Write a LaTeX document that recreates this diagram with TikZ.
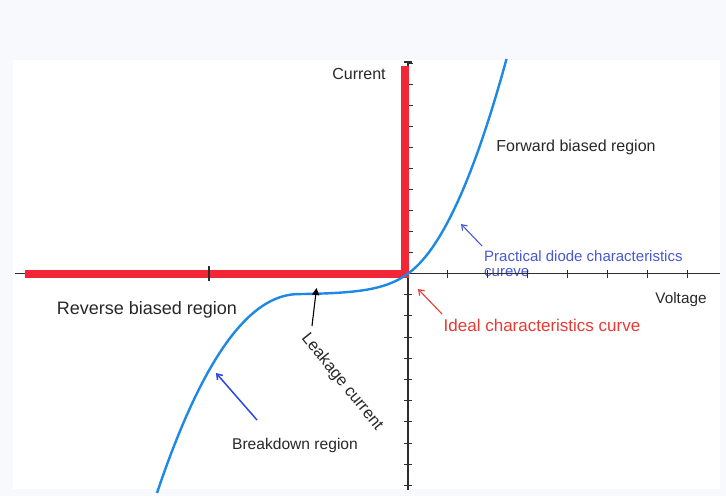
\documentclass[tikz,border=0pt]{standalone}
\usepackage{fontspec}
\setmainfont{Liberation Sans}
\usetikzlibrary{arrows.meta}
\definecolor{bgc}{RGB}{247,249,253}
\definecolor{axisc}{RGB}{45,45,45}
\definecolor{idealred}{RGB}{242,38,55}
\definecolor{curveblue}{RGB}{30,136,229}
\definecolor{labelblue}{RGB}{72,88,212}
\definecolor{labelred}{RGB}{232,58,52}
\definecolor{arrowblue}{RGB}{45,70,232}
\definecolor{txt}{RGB}{40,40,40}
\tikzset{
  lbl/.style={inner sep=0pt, text=txt, font=\fontsize{16}{18}\selectfont},
  axisline/.style={draw=axisc, line width=1.3pt},
  tickmark/.style={draw=axisc, line width=1.1pt},
  pointer/.style={line width=1.1pt, -{Straight Barb[length=5pt,width=7pt]}},
}
\begin{document}
\begin{tikzpicture}[x=1pt,y=-1pt]
\useasboundingbox (0,0) rectangle (726,496);
\fill[bgc] (0,0) rectangle (726,496);
\fill[white] (13,60) rectangle (720,489);
% text overlapped by axis
\node[lbl, anchor=west, text=labelblue, font=\fontsize{15}{17}\selectfont] (cureve) at (484,273) {cureve};
% axes
\coordinate (O) at (408,273.5);
\draw[axisline] (15,273.5) -- (720,273.5);
\draw[axisline] (408,490) -- (408,62);
\draw[tickmark] (404,62) -- (412,62);
\foreach \k in {1,...,10} {
  \draw[tickmark] (408,273.5-21*\k) -- (412.5,273.5-21*\k);
  \draw[tickmark] (404,273.5+21.2*\k) -- (412,273.5+21.2*\k);
}
\foreach \k in {1,...,7} {
  \draw[tickmark] (408+39.9*\k,269.5) -- (408+39.9*\k,277.5);
}
% ideal curve
\draw[idealred, line width=8pt] (25,273.5) -- (404.5,273.5) -- (404.5,66);
\draw[tickmark] (209,266) -- (209,281);
% practical curve
\draw[curveblue, line width=2.4pt, line join=round]
  plot[domain=-251:-110, samples=60]
    ({408+\x}, {273.5 + 21*(1-exp(\x/28)) + 89.1*((-\x-110)/100)^2 + 7.6*((-\x-110)/100)^3})
  -- plot[domain=-110:0, samples=50]
    ({408+\x}, {273.5 + 21*(1-exp(\x/28))})
  -- plot[domain=0:98.5, samples=50]
    ({408+\x}, {273.5 - 0.015*\x*\x - 0.7*\x});
% labels
\node[lbl] (current) at (359,74) {Current};
\node[lbl] (forward) at (576,147) {Forward biased region};
\node[lbl, anchor=west, text=labelblue, font=\fontsize{15}{17}\selectfont] (practical) at (484,256) {Practical diode characteristics};
\node[lbl, font=\fontsize{15.3}{17}\selectfont] (voltage) at (681,300) {Voltage};
\node[lbl, text=labelred, font=\fontsize{17}{19}\selectfont] (ideal) at (542,325) {Ideal characteristics curve};
\node[lbl, font=\fontsize{18}{20}\selectfont] (reverse) at (147,310) {Reverse biased region};
\node[lbl, rotate=-51, font=\fontsize{16.5}{18}\selectfont] (leakage) at (342,382) {Leakage current};
\node[lbl, font=\fontsize{15.6}{18}\selectfont] (breakdown) at (295,445) {Breakdown region};
% pointer arrows
\coordinate (ptip) at (461,224);
\coordinate (ptail) at (482,246);
\coordinate (itip) at (418,289);
\coordinate (itail) at (442,314);
\coordinate (ltip) at (316.5,288);
\coordinate (ltail) at (312,326);
\coordinate (btip) at (216,373);
\coordinate (btail) at (257,420);
\draw[pointer, labelblue] (ptail) -- (ptip);
\draw[pointer, labelred] (itail) -- (itip);
\draw[line width=1.1pt, black, -{Triangle[length=7pt,width=7pt]}] (ltail) -- (ltip);
\draw[pointer, arrowblue, line width=1.5pt] (btail) -- (btip);
\end{tikzpicture}
\end{document}
